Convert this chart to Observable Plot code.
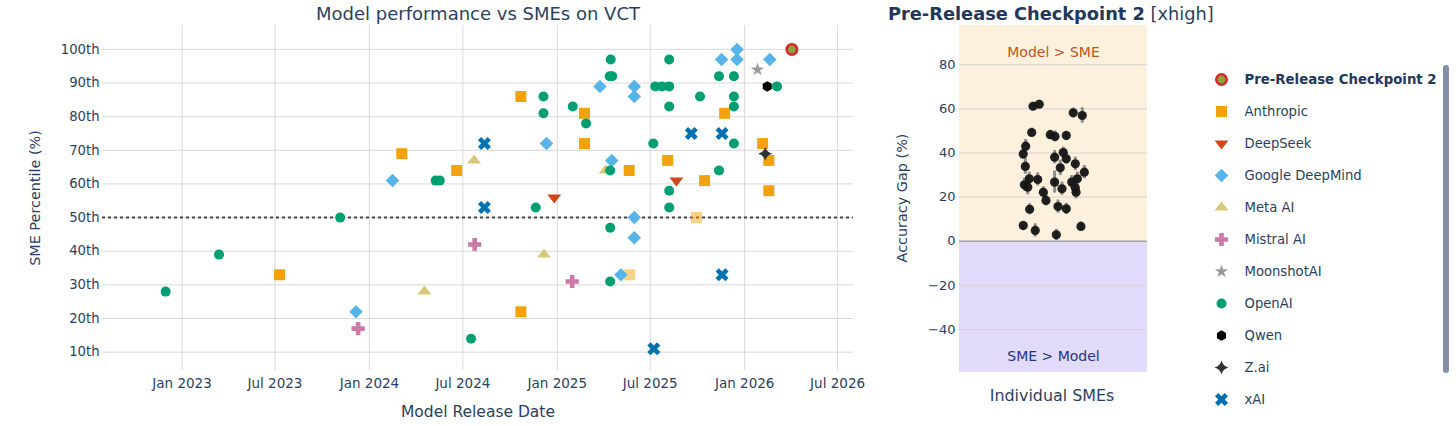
<!DOCTYPE html>
<html><head><meta charset="utf-8">
<script src="https://cdn.jsdelivr.net/npm/d3@7"></script>
<script src="https://cdn.jsdelivr.net/npm/@observablehq/plot@0.6"></script>
<style>
html,body{margin:0;padding:0;background:#fff;}
#wrap{position:relative;width:1456px;height:426px;overflow:hidden;font-family:"DejaVu Sans",Verdana,sans-serif;color:#2a3f5f;}
#wrap svg{position:absolute;top:0;overflow:visible;}
.t{position:absolute;white-space:nowrap;text-align:center;}
</style></head><body><div id="wrap"></div>
<script>
// ---------- data: model release dates and SME percentiles ----------
const preReleaseDates = ["2026-04-03"];
const preReleasePct = [100];

const anthropicDates = ["2023-07-10","2024-03-04","2024-06-19","2024-10-22","2024-10-22","2025-02-23","2025-02-23","2025-05-21","2025-08-04","2025-10-15","2025-11-23","2026-02-05","2026-02-17","2026-02-17"];
const anthropicPct = [33,69,64,86,22,81,72,64,67,61,81,72,67,58];
const anthropicLightDates = ["2025-05-22","2025-09-29"];
const anthropicLightPct = [33,50];

const deepseekDates = ["2024-12-26","2025-08-21"];
const deepseekPct = [56,61];

const googleDates = ["2023-12-06","2024-02-15","2024-12-11","2025-03-25","2025-04-17","2025-05-05","2025-05-31","2025-05-31","2025-05-31","2025-05-31","2025-11-17","2025-12-17","2025-12-17","2026-02-19"];
const googlePct = [22,61,72,89,67,33,89,86,50,44,97,100,97,97];

const metaDates = ["2024-04-17","2024-07-23","2024-12-06","2025-04-05"];
const metaPct = [28,67,39,64];

const mistralDates = ["2023-12-10","2024-07-24","2025-01-30"];
const mistralPct = [17,42,31];

const moonshotDates = ["2026-01-26"];
const moonshotPct = [94];

const openaiDates = ["2022-11-30","2023-03-14","2023-11-05","2024-05-09","2024-05-17","2024-07-17","2024-11-20","2024-12-05","2024-12-05","2025-01-31","2025-02-26","2025-04-13","2025-04-15","2025-04-18","2025-04-14","2025-04-14","2025-04-14","2025-07-07","2025-07-11","2025-07-24","2025-08-07","2025-08-07","2025-08-07","2025-08-07","2025-08-07","2025-10-06","2025-11-12","2025-11-12","2025-12-11","2025-12-11","2025-12-11","2025-12-11","2026-03-05"];
const openaiPct = [28,39,50,61,61,14,53,86,81,83,78,92,97,92,64,47,31,72,89,89,89,97,83,58,53,86,92,64,92,86,83,72,89];

const qwenDates = ["2026-02-14"];
const qwenPct = [89];

const zaiDates = ["2026-02-10"];
const zaiPct = [69];

const xaiDates = ["2024-08-12","2024-08-12","2025-07-08","2025-09-19","2025-11-18","2025-11-18"];
const xaiPct = [72,53,11,75,75,33];

// axis ticks
const dateTicks = ["2023-01-01","2023-07-01","2024-01-01","2024-07-01","2025-01-01","2025-07-01","2026-01-01","2026-07-01"];
const pctTicks = [10,20,30,40,50,60,70,80,90,100];
const gapTicks = [-40,-20,0,20,40,60,80];

// ---------- data: individual SME accuracy gaps (jitter within the category) ----------
const smeJitter = [-0.109,-0.076,0.105,0.153,-0.116,-0.017,0.008,0.068,-0.148,-0.161,0.052,0.006,0.068,-0.150,0.116,0.036,0.164,-0.129,-0.084,-0.155,-0.137,0.006,0.045,0.097,0.127,0.116,0.120,-0.054,-0.040,-0.127,0.024,0.068,-0.161,-0.097,0.015,0.146];
const smeGap = [61.2,62.1,58.2,57.0,49.3,48.3,47.5,47.9,43.1,39.6,40.2,38.1,37.4,33.9,35.1,33.3,31.3,28.3,28.0,25.6,24.5,26.8,23.8,26.8,28.3,24.2,22.2,22.2,18.5,14.5,15.7,14.7,7.1,4.9,2.9,6.7];
const smeErr = [1.8,1.8,2.2,3.5,2,2,2.5,2,3,2.5,2.5,3,2.5,3.5,3,3.5,3,3,3,3,3.5,5,3,3,3,3.5,3,2.5,2.5,2.5,3,2.5,2,3,2.5,2];

const legendNames = ["Pre-Release Checkpoint 2","Anthropic","DeepSeek","Google DeepMind","Meta AI","Mistral AI","MoonshotAI","OpenAI","Qwen","Z.ai","xAI"];
const legendColors = ["#8da33e","#f4a20c","#d0481a","#56b4e9","#d9c778","#cc79a7","#999999","#009e73","#000000","#2f3236","#0072b2"];

// ---------- symbols (plotly-like shapes) ----------
const TAU = 2 * Math.PI;
const mk = f => ({draw(c, size) { f(c, Math.sqrt(size / Math.PI)); }});
const symbols = {
  "Pre-Release Checkpoint 2": mk((c, r) => { c.moveTo(r, 0); c.arc(0, 0, r, 0, TAU); }),
  "Anthropic": mk((c, r) => { const s = r * 1.1; c.moveTo(-s, -s); c.lineTo(s, -s); c.lineTo(s, s); c.lineTo(-s, s); c.closePath(); }),
  "DeepSeek": mk((c, r) => { r *= 1.2; const t = r * 2 / Math.sqrt(3); c.moveTo(-t, -r / 2); c.lineTo(t, -r / 2); c.lineTo(0, r); c.closePath(); }),
  "Google DeepMind": mk((c, r) => { const d = r * 1.35; c.moveTo(d, 0); c.lineTo(0, d); c.lineTo(-d, 0); c.lineTo(0, -d); c.closePath(); }),
  "Meta AI": mk((c, r) => { r *= 1.2; const t = r * 2 / Math.sqrt(3); c.moveTo(-t, r / 2); c.lineTo(t, r / 2); c.lineTo(0, -r); c.closePath(); }),
  "Mistral AI": mk((c, r) => { r *= 1.1; const a = r * 0.42, b = r * 1.2;
    c.moveTo(b, a); c.lineTo(a, a); c.lineTo(a, b); c.lineTo(-a, b); c.lineTo(-a, a); c.lineTo(-b, a);
    c.lineTo(-b, -a); c.lineTo(-a, -a); c.lineTo(-a, -b); c.lineTo(a, -b); c.lineTo(a, -a); c.lineTo(b, -a); c.closePath(); }),
  "MoonshotAI": mk((c, r) => { const s = r * 1.4;
    const x1 = s * 0.225, x2 = s * 0.951, x3 = s * 0.363, x4 = s * 0.588, y1 = -s, y2 = s * -0.309, y3 = s * 0.118, y4 = s * 0.809, y5 = s * 0.382;
    c.moveTo(x1, y2); c.lineTo(x2, y2); c.lineTo(x3, y3); c.lineTo(x4, y4); c.lineTo(0, y5); c.lineTo(-x4, y4);
    c.lineTo(-x3, y3); c.lineTo(-x2, y2); c.lineTo(-x1, y2); c.lineTo(0, y1); c.closePath(); }),
  "OpenAI": mk((c, r) => { c.moveTo(r, 0); c.arc(0, 0, r, 0, TAU); }),
  "Qwen": mk((c, r) => { const a = r * 1.05, h = a / 2, w = a * Math.sqrt(3) / 2;
    c.moveTo(w, -h); c.lineTo(w, h); c.lineTo(0, a); c.lineTo(-w, h); c.lineTo(-w, -h); c.lineTo(0, -a); c.closePath(); }),
  "Z.ai": mk((c, r) => { const d = r * 1.4, k = d * 0.2;
    c.moveTo(-d, 0); c.quadraticCurveTo(-k, k, 0, d); c.quadraticCurveTo(k, k, d, 0);
    c.quadraticCurveTo(k, -k, 0, -d); c.quadraticCurveTo(-k, -k, -d, 0); c.closePath(); }),
  "xAI": mk((c, r) => { const q = r * 1.15 * 0.8 / Math.SQRT2;
    c.moveTo(0, q); c.lineTo(q, 2 * q); c.lineTo(2 * q, q); c.lineTo(q, 0); c.lineTo(2 * q, -q); c.lineTo(q, -2 * q);
    c.lineTo(0, -q); c.lineTo(-q, -2 * q); c.lineTo(-2 * q, -q); c.lineTo(-q, 0); c.lineTo(-2 * q, q); c.lineTo(-q, 2 * q); c.closePath(); })
};

// ---------- build tables ----------
const parse = s => new Date(s + "T00:00:00Z");
const rows = (dates, pcts) => dates.map((d, i) => ({date: parse(d), pct: pcts[i]}));
const series = [
  ["Anthropic", rows(anthropicDates, anthropicPct), 1],
  ["Anthropic", rows(anthropicLightDates, anthropicLightPct), 0.5],
  ["DeepSeek", rows(deepseekDates, deepseekPct), 1],
  ["Google DeepMind", rows(googleDates, googlePct), 1],
  ["Meta AI", rows(metaDates, metaPct), 1],
  ["Mistral AI", rows(mistralDates, mistralPct), 1],
  ["MoonshotAI", rows(moonshotDates, moonshotPct), 1],
  ["OpenAI", rows(openaiDates, openaiPct), 1],
  ["Qwen", rows(qwenDates, qwenPct), 1],
  ["Z.ai", rows(zaiDates, zaiPct), 1],
  ["xAI", rows(xaiDates, xaiPct), 1]
];
const colorOf = n => legendColors[legendNames.indexOf(n)];
const R = 5;
const fontStyle = {fontFamily: "'DejaVu Sans', Verdana, sans-serif", fontSize: "13px", color: "#2a3f5f", background: "transparent", overflow: "visible"};

const leftPlot = Plot.plot({
  width: 870, height: 426,
  marginTop: 25, marginRight: 17, marginBottom: 56, marginLeft: 102,
  style: fontStyle,
  x: {type: "utc", domain: [parse("2022-07-30"), parse("2026-08-01")]},
  y: {domain: [4.55, 107.1]},
  marks: [
    Plot.ruleX(dateTicks.map(parse), {stroke: "#d9d9d9", strokeWidth: 1}),
    Plot.ruleY(pctTicks, {stroke: "#d9d9d9", strokeWidth: 1}),
    Plot.ruleY([50], {stroke: "#444", strokeWidth: 2, strokeDasharray: "3,3"}),
    Plot.axisX(dateTicks.map(parse), {tickFormat: d3.utcFormat("%b %Y"), tickSize: 0, tickPadding: 8, label: null, fontSize: 13.5}),
    Plot.axisY(pctTicks, {tickFormat: d => d + "th", tickSize: 0, tickPadding: 3, label: null, fontSize: 13.2}),
    ...series.map(([name, data, op]) => Plot.dot(data, {
      x: "date", y: "pct", symbol: symbols[name], r: R, fill: colorOf(name), fillOpacity: op, stroke: "none"
    })),
    Plot.dot(rows(preReleaseDates, preReleasePct), {
      x: "date", y: "pct", symbol: symbols["Pre-Release Checkpoint 2"], r: 5.2,
      fill: legendColors[0], stroke: "#d42a2a", strokeWidth: 2.6
    })
  ]
});

const smeRows = smeGap.map((g, i) => ({jit: smeJitter[i], gap: g, err: smeErr[i]}));
const gapDomain = [-59.5, 97.8];
const rightPlot = Plot.plot({
  width: 290, height: 426,
  marginTop: 25, marginRight: 13, marginBottom: 54, marginLeft: 89,
  style: fontStyle,
  x: {domain: [-0.5, 0.5], axis: null},
  y: {domain: gapDomain},
  marks: [
    Plot.rect([{lo: 0, hi: gapDomain[1]}], {y1: "lo", y2: "hi", fill: "#fdf1de"}),
    Plot.rect([{lo: gapDomain[0], hi: 0}], {y1: "lo", y2: "hi", fill: "#e2dafb"}),
    Plot.ruleY(gapTicks.filter(t => t !== 0), {stroke: "#d6d3cf", strokeWidth: 1}),
    Plot.ruleY([0], {stroke: "#a3a3a3", strokeWidth: 1.5}),
    Plot.axisY(gapTicks, {tickSize: 0, tickPadding: 4, label: null, fontSize: 13}),
    Plot.ruleX(smeRows, {x: "jit", y1: d => d.gap - d.err, y2: d => d.gap + d.err, stroke: "#8c8c8c", strokeWidth: 3}),
    Plot.dot(smeRows, {x: "jit", y: "gap", r: 4.6, fill: "#151515", fillOpacity: 0.95}),
    Plot.text(["Model > SME"], {frameAnchor: "top", dy: 22, fill: "#c0561a", fontSize: 14}),
    Plot.text(["SME > Model"], {frameAnchor: "bottom", dy: -12, fill: "#1f3680", fontSize: 14})
  ]
});

const legendPlot = Plot.plot({
  width: 296, height: 426,
  marginTop: 0, marginRight: 0, marginBottom: 0, marginLeft: 61,
  style: fontStyle,
  y: {type: "point", domain: legendNames, range: [76, 402], padding: 0, axis: null},
  marks: [
    ...legendNames.map((n, i) => Plot.dot([n], {
      y: d => d, frameAnchor: "left", symbol: symbols[n], r: i === 0 ? 5.2 : R,
      fill: legendColors[i], stroke: i === 0 ? "#d42a2a" : "none", strokeWidth: i === 0 ? 2.6 : 0
    })),
    Plot.text([legendNames[0]], {y: d => d, text: d => d, frameAnchor: "left", dx: 23, textAnchor: "start", fontSize: 13.3, fontWeight: "bold", fill: "#23375a"}),
    Plot.text(legendNames.slice(1), {y: d => d, text: d => d, frameAnchor: "left", dx: 23, textAnchor: "start", fontSize: 13.2, fill: "#2a3f5f"})
  ]
});

const wrap = document.getElementById("wrap");
leftPlot.style.left = "0px";
rightPlot.style.left = "870px";
legendPlot.style.left = "1160px";
wrap.append(leftPlot, rightPlot, legendPlot);

function addText(html, cx, cy, size, opts = {}) {
  const d = document.createElement("div");
  d.className = "t";
  d.innerHTML = html;
  const w = opts.w || 400;
  d.style.width = w + "px";
  d.style.left = (cx - w / 2) + "px";
  d.style.top = (cy - 11) + "px";
  d.style.lineHeight = "22px";
  d.style.fontSize = size + "px";
  if (opts.rotate) d.style.transform = "rotate(-90deg)";
  if (opts.color) d.style.color = opts.color;
  wrap.append(d);
  return d;
}
addText("Model performance vs SMEs on VCT", 478, 14, 18);
addText("SME Percentile (%)", 35, 198, 14.4, {rotate: true, w: 240});
addText("Model Release Date", 478, 412, 15.5);
addText("Accuracy Gap (%)", 902, 198, 14.4, {rotate: true, w: 240});
addText("Individual SMEs", 1052, 396, 15.9, {w: 220});
const rt = addText('<b style="color:#23375a">Pre-Release Checkpoint 2</b> [xhigh]', 0, 14, 17.8, {w: 400});
rt.style.left = "888px"; rt.style.textAlign = "left";

// legend scrollbar (decorative)
const sb = document.createElement("div");
sb.style.cssText = "position:absolute;left:1443px;top:65px;width:6px;height:308px;border-radius:3px;background:#858ea8;";
wrap.append(sb);
</script>
</body></html>
